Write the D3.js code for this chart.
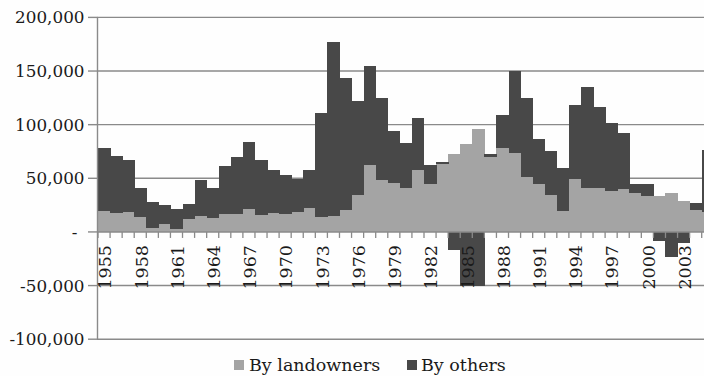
<!DOCTYPE html>
<html><head><meta charset="utf-8">
<script src="https://cdn.jsdelivr.net/npm/d3@7"></script>
<style>
html,body{margin:0;padding:0;background:#fefefe;}
svg{display:block;}
text{font-family:"DejaVu Serif",serif;fill:#1a1a1a;}
</style></head>
<body>
<svg id="chart" width="704" height="376"></svg>
<script>
const years = d3.range(1955, 2006);
const byLandowners = [19600,18100,18650,14000,4100,7200,2800,11850,14650,13050,
  17150,16500,21450,15600,17700,16800,18650,22000,14000,14900,
  20900,34500,62850,48200,45700,41050,57550,45150,63000,72500,
  81800,95500,70000,77800,73700,50750,44500,34250,19600,49150,
  40500,40500,38250,39850,36000,33600,33500,36400,28800,20800,18650];
const byOthers = [58750,52800,48250,27050,23900,18300,19000,13950,33550,28350,
  44150,53200,61950,51900,40500,36400,30800,35400,97000,162350,
  122750,87150,92000,76250,47950,41400,48250,17050,2000,-17000,
  -50500,-50500,2500,30750,76500,73700,42600,41050,39550,68750,
  94200,75550,62850,51950,8400,10900,-8500,-23000,-10400,6400,57550];
const seriesNames = ["By landowners","By others"];
const seriesColors = ["#a4a4a4","#484848"];
const yTicks = [-100000,-50000,0,50000,100000,150000,200000];
const xLabelYears = d3.range(1955, 2004, 3);

const svg = d3.select("#chart");
const x0 = 98, bw = 12.074;
const x = d3.scaleBand().domain(years).range([x0, x0 + years.length*bw]).paddingInner(0).paddingOuter(0);
const y = d3.scaleLinear().domain([-100000, 200000]).range([339.2, 17.4]);

const table = years.map((yr,i)=>({year:yr, "By landowners":byLandowners[i], "By others":byOthers[i]}));
const stacked = d3.stack().keys(seriesNames).offset(d3.stackOffsetDiverging)(table);

// gridlines
svg.append("g").selectAll("line").data(yTicks.filter(v=>v!==0)).join("line")
  .attr("x1",97).attr("x2",704).attr("y1",d=>y(d)).attr("y2",d=>y(d))
  .attr("stroke","#8a8a8a").attr("stroke-width",1.4);

// bars
svg.append("g").selectAll("g").data(stacked).join("g")
  .attr("fill",(d,i)=>seriesColors[i])
  .selectAll("rect").data(d=>d).join("rect")
  .attr("shape-rendering","crispEdges")
  .attr("x",d=>x(d.data.year)).attr("width",x.bandwidth()+0.5)
  .attr("y",d=>y(Math.max(d[0],d[1]))).attr("height",d=>Math.abs(y(d[0])-y(d[1])));

// zero axis line with ticks
svg.append("line").attr("x1",97).attr("x2",704).attr("y1",y(0)).attr("y2",y(0))
  .attr("stroke","#8a8a8a").attr("stroke-width",1.4);
svg.append("g").selectAll("line").data(d3.range(years.length+1)).join("line")
  .attr("x1",i=>x0+i*bw).attr("x2",i=>x0+i*bw).attr("y1",y(0)).attr("y2",y(0)+6)
  .attr("stroke","#8a8a8a").attr("stroke-width",1.3);

// y axis
svg.append("line").attr("x1",97.5).attr("x2",97.5).attr("y1",y(200000)).attr("y2",y(-100000))
  .attr("stroke","#8a8a8a").attr("stroke-width",1.4);
svg.append("g").selectAll("line").data(yTicks).join("line")
  .attr("x1",88).attr("x2",97.5).attr("y1",d=>y(d)).attr("y2",d=>y(d))
  .attr("stroke","#8a8a8a").attr("stroke-width",1.4);

const fmt = d3.format(",");
svg.append("g").style("font-size","16.8px").selectAll("text").data(yTicks).join("text")
  .attr("x",d=>d===0?77.5:84.5).attr("y",d=>y(d)).attr("dy","0.36em").attr("text-anchor","end")
  .text(d=>d===0?"-":(d<0?"-":"")+fmt(Math.abs(d)));

// x labels
svg.append("g").style("font-size","17.5px").selectAll("text").data(xLabelYears).join("text")
  .attr("transform",d=>`translate(${x(d)+x.bandwidth()/2+1},245) rotate(-90)`)
  .attr("text-anchor","end").attr("dy","0.36em").text(d=>d);

// legend
const lg = svg.append("g").style("font-size","17.5px");
const legendPos = [{sx:234, tx:249},{sx:407, tx:421}];
seriesNames.forEach((n,i)=>{
  lg.append("rect").attr("x",legendPos[i].sx).attr("y",360).attr("width",10).attr("height",10).attr("fill",seriesColors[i]);
  lg.append("text").attr("x",legendPos[i].tx).attr("y",371).text(n);
});
</script>
</body></html>
